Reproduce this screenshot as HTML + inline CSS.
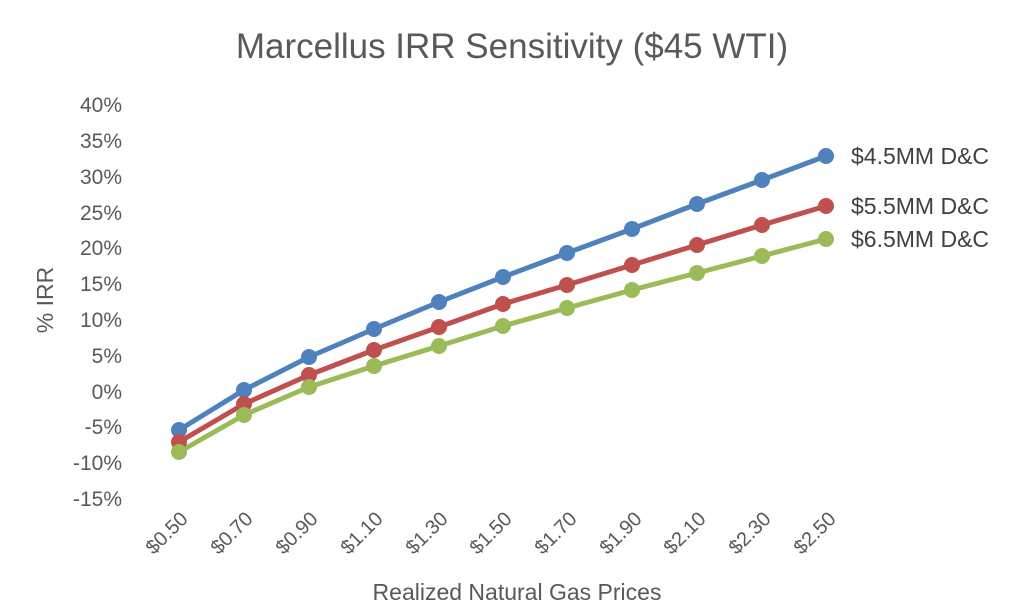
<!DOCTYPE html>
<html><head><meta charset="utf-8"><style>
body{margin:0;background:#fff}
svg{display:block;font-family:"Liberation Sans",sans-serif;fill:#595959}
</style></head><body>
<svg width="1024" height="615" viewBox="0 0 1024 615">
<text x="512" y="58" font-size="35" text-anchor="middle">Marcellus IRR Sensitivity ($45 WTI)</text>
<g font-size="21" text-anchor="end">
<text x="122" y="112">40%</text><text x="122" y="148">35%</text><text x="122" y="184">30%</text><text x="122" y="220">25%</text><text x="122" y="255">20%</text><text x="122" y="291">15%</text><text x="122" y="327">10%</text><text x="122" y="363">5%</text><text x="122" y="399">0%</text><text x="122" y="434">-5%</text><text x="122" y="470">-10%</text><text x="122" y="506">-15%</text>
</g>
<text transform="translate(53,300) rotate(-90)" font-size="23" text-anchor="middle">% IRR</text>
<g font-size="20" text-anchor="end">
<text transform="translate(189,520) rotate(-45)">$0.50</text>
<text transform="translate(254,520) rotate(-45)">$0.70</text>
<text transform="translate(319,520) rotate(-45)">$0.90</text>
<text transform="translate(384,520) rotate(-45)">$1.10</text>
<text transform="translate(449,520) rotate(-45)">$1.30</text>
<text transform="translate(513,520) rotate(-45)">$1.50</text>
<text transform="translate(578,520) rotate(-45)">$1.70</text>
<text transform="translate(643,520) rotate(-45)">$1.90</text>
<text transform="translate(707,520) rotate(-45)">$2.10</text>
<text transform="translate(772,520) rotate(-45)">$2.30</text>
<text transform="translate(837,520) rotate(-45)">$2.50</text>
</g>
<text x="517" y="600" font-size="23" text-anchor="middle">Realized Natural Gas Prices</text>
<g fill="none" stroke-width="5" stroke-linejoin="round">
<polyline stroke="#4f81bd" points="179,430 244,390 309,357 374,329 439,302 503,277 567,253 632,229 697,204 762,180 826,156"/>
<polyline stroke="#c0504d" points="179,442 244,404 309,375 374,350 439,327 503,304 567,285 632,265 697,245 762,225 826,206"/>
<polyline stroke="#9bbb59" points="179,452 244,415 309,387 374,366 439,346 503,326 567,308 632,290 697,273 762,256 826,239"/>
</g>
<g fill="#4f81bd"><circle cx="179" cy="430" r="8"/><circle cx="244" cy="390" r="8"/><circle cx="309" cy="357" r="8"/><circle cx="374" cy="329" r="8"/><circle cx="439" cy="302" r="8"/><circle cx="503" cy="277" r="8"/><circle cx="567" cy="253" r="8"/><circle cx="632" cy="229" r="8"/><circle cx="697" cy="204" r="8"/><circle cx="762" cy="180" r="8"/><circle cx="826" cy="156" r="8"/></g>
<g fill="#c0504d"><circle cx="179" cy="442" r="8"/><circle cx="244" cy="404" r="8"/><circle cx="309" cy="375" r="8"/><circle cx="374" cy="350" r="8"/><circle cx="439" cy="327" r="8"/><circle cx="503" cy="304" r="8"/><circle cx="567" cy="285" r="8"/><circle cx="632" cy="265" r="8"/><circle cx="697" cy="245" r="8"/><circle cx="762" cy="225" r="8"/><circle cx="826" cy="206" r="8"/></g>
<g fill="#9bbb59"><circle cx="179" cy="452" r="8"/><circle cx="244" cy="415" r="8"/><circle cx="309" cy="387" r="8"/><circle cx="374" cy="366" r="8"/><circle cx="439" cy="346" r="8"/><circle cx="503" cy="326" r="8"/><circle cx="567" cy="308" r="8"/><circle cx="632" cy="290" r="8"/><circle cx="697" cy="273" r="8"/><circle cx="762" cy="256" r="8"/><circle cx="826" cy="239" r="8"/></g>
<g font-size="23" fill="#404040">
<text x="851" y="164">$4.5MM D&amp;C</text>
<text x="851" y="214">$5.5MM D&amp;C</text>
<text x="851" y="247">$6.5MM D&amp;C</text>
</g>
</svg>
</body></html>
